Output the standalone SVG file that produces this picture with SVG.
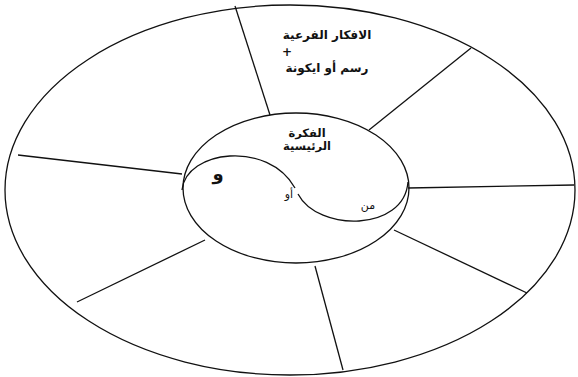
<svg xmlns="http://www.w3.org/2000/svg" width="578" height="377" viewBox="0 0 578 377">
<style>
.ln{fill:none;stroke:#111;stroke-width:1.3}
.t{font-family:"DejaVu Sans","Liberation Sans",sans-serif;fill:#111;direction:rtl}
.b{font-weight:bold}
</style>
<rect width="578" height="377" fill="#fff"/>
<g id="outer"><ellipse class="ln" cx="290" cy="190" rx="285" ry="185"/></g>
<g id="connectors">
<line class="ln" x1="235" y1="6" x2="270" y2="115"/>
<line class="ln" x1="471" y1="48" x2="369" y2="130"/>
<line class="ln" x1="408" y1="188" x2="574" y2="185"/>
<line class="ln" x1="394" y1="230" x2="527" y2="293"/>
<line class="ln" x1="315" y1="266" x2="343" y2="370"/>
<line class="ln" x1="205" y1="240" x2="77" y2="302"/>
<line class="ln" x1="182" y1="174" x2="18" y2="155"/>
</g>
<g id="center">
<ellipse class="ln" cx="296" cy="188" rx="113" ry="75"/>
<path class="ln" d="M182,190 C186,150 268,140 295,188"/>
<path class="ln" d="M298,194 C318,232 404,232 408,182"/>
<text class="t" x="307" y="137" font-size="11.5" text-anchor="middle" font-weight="600">الفكرة</text>
<text class="t" x="307" y="150" font-size="11.5" text-anchor="middle" font-weight="600">الرئيسية</text>
<text class="t b" x="218" y="180" font-size="18" text-anchor="middle">و</text>
<text class="t" x="289" y="198" font-size="11" text-anchor="middle">أو</text>
<text class="t" x="368" y="209" font-size="11" text-anchor="middle">من</text>
</g>
<g id="branch">
<text class="t b" x="327" y="39" font-size="12" text-anchor="middle">الافكار الفرعية</text>
<text class="t b" x="287" y="56" font-size="12" text-anchor="middle">+</text>
<text class="t b" x="327" y="72" font-size="12" text-anchor="middle">رسم أو ايكونة</text>
</g>
</svg>
